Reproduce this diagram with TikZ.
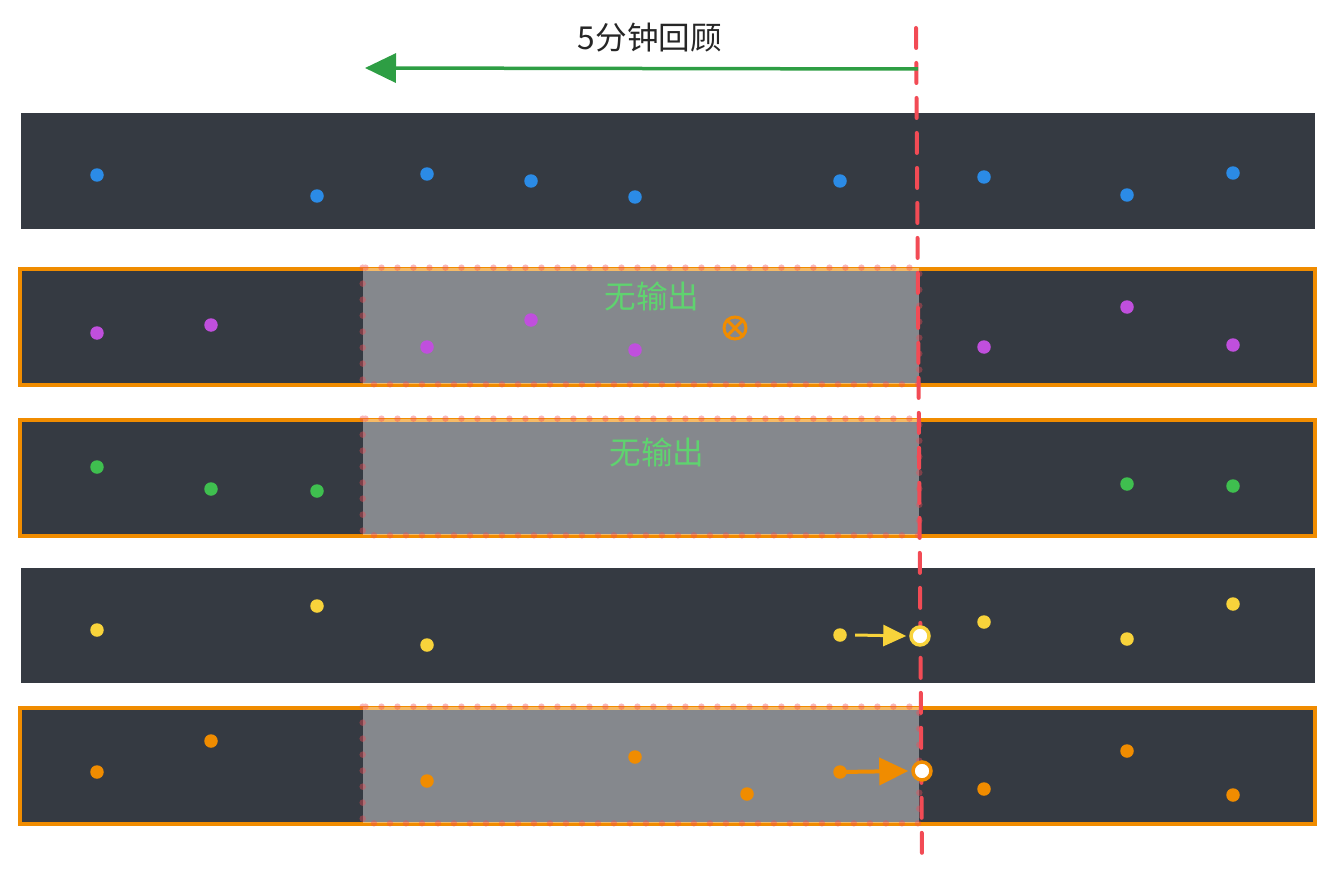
\documentclass[tikz,border=0pt]{standalone}
\usepackage{fontspec}
\usepackage{xcolor}
\usepackage{tikz}
\usetikzlibrary{arrows.meta}
\newfontfamily\cjk{Noto Sans CJK SC}
\definecolor{lane-dark}{HTML}{353A42}
\definecolor{lane-edge}{HTML}{F08C00}
\definecolor{cut-red}{HTML}{F24B55}
\definecolor{look-green}{HTML}{2E9E44}
\definecolor{none-green}{HTML}{5FD36F}
\definecolor{dot-blue}{HTML}{2B8BE6}
\definecolor{dot-purple}{HTML}{C04FDD}
\definecolor{dot-green}{HTML}{3FBF4F}
\definecolor{dot-yellow}{HTML}{F8D33B}
\definecolor{dot-orange}{HTML}{F08C00}
\tikzset{
  lane/.style={rectangle, fill=lane-dark, inner sep=0pt, minimum width=25.9cm, minimum height=2.32cm},
  lanehit/.style={lane, draw=lane-edge, line width=0.07cm},
  shade/.style={rectangle, fill=white, fill opacity=0.4, inner sep=0pt, minimum width=11.12cm, minimum height=2.32cm},
  dot/.style={circle, inner sep=0pt, minimum size=0.27cm},
  ring/.style={circle, fill=white, line width=0.07cm, inner sep=0pt, minimum size=0.36cm},
  notext/.style={text=none-green, font=\fontsize{18}{20}\selectfont\cjk}
}

\begin{document}
\begin{tikzpicture}[x=0.02cm, y=-0.02cm]
    \useasboundingbox (0,0) rectangle (1335,882);

    % lanes
    \node[lane] (lane1) at (668,171) {};
    \node[lanehit] (lane2) at (667.5,327) {};
    \node[lanehit] (lane3) at (667.5,478) {};
    \node[lane] (lane4) at (668,625.5) {};
    \node[lanehit] (lane5) at (667.5,766) {};

    % window with no output
    \foreach \y/\n in {326/2, 477/3, 765/5} {
        \node[shade] (shade\n) at (641,\y) {};
        \draw[cut-red, opacity=0.4, line width=0.13cm, line cap=round, dash pattern=on 0pt off 0.32cm]
            (shade\n.north west) rectangle (shade\n.south east);
    }
    \node[notext] (none2) at (652,296) {无输出};
    \node[notext] (none3) at (657,452) {无输出};

    % events
    \foreach \x/\y [count=\i] in {97/175, 317/196, 427/174, 531/181, 635/197, 840/181, 984/177, 1127/195, 1233/173}
        \node[dot, fill=dot-blue] (a\i) at (\x,\y) {};
    \foreach \x/\y [count=\i] in {97/333, 211/325, 427/347, 531/320, 635/350, 984/347, 1127/307, 1233/345}
        \node[dot, fill=dot-purple] (b\i) at (\x,\y) {};
    \foreach \x/\y [count=\i] in {97/467, 211/489, 317/491, 1127/484, 1233/486}
        \node[dot, fill=dot-green] (c\i) at (\x,\y) {};
    \foreach \x/\y [count=\i] in {97/630, 317/606, 427/645, 840/635, 984/622, 1127/639, 1233/604}
        \node[dot, fill=dot-yellow] (d\i) at (\x,\y) {};
    \foreach \x/\y [count=\i] in {97/772, 211/741, 427/781, 635/757, 747/794, 840/772, 984/789, 1127/751, 1233/795}
        \node[dot, fill=dot-orange] (e\i) at (\x,\y) {};

    % dropped mark
    \node[circle, draw=lane-edge, line width=0.06cm, inner sep=0pt, minimum size=0.44cm] (drop) at (735,328) {};
    \draw[lane-edge, line width=0.06cm] (drop.45) -- (drop.225);
    \draw[lane-edge, line width=0.06cm] (drop.135) -- (drop.315);

    % cut line
    \coordinate (cuttop) at (916,28);
    \coordinate (cutbot) at (922,862);
    \draw[cut-red, line width=0.08cm, line cap=round, dash pattern=on 0.4cm off 0.3cm] (cuttop) -- (cutbot);

    % late samples
    \node[ring, draw=dot-yellow] (ringy) at (920,636) {};
    \node[ring, draw=dot-orange] (ringo) at (922,771) {};
    \draw[-{Triangle[length=0.46cm, width=0.42cm]}, line width=0.06cm, dot-yellow] ([xshift=0.16cm]d4.east) -- ([xshift=-0.06cm]ringy.west);
    \draw[-{Triangle[length=0.58cm, width=0.54cm]}, line width=0.08cm, dot-orange] (e6.center) -- ([xshift=-0.06cm]ringo.west);

    % look back
    \coordinate (lookfrom) at (918,69);
    \coordinate (lookto) at (365,68);
    \draw[-{Triangle[length=0.62cm, width=0.58cm]}, line width=0.07cm, look-green] (lookfrom) -- (lookto);
    \node[font=\fontsize{18}{20}\selectfont\cjk, text=black!85] (title) at (650,38) {5分钟回顾};
\end{tikzpicture}
\end{document}
